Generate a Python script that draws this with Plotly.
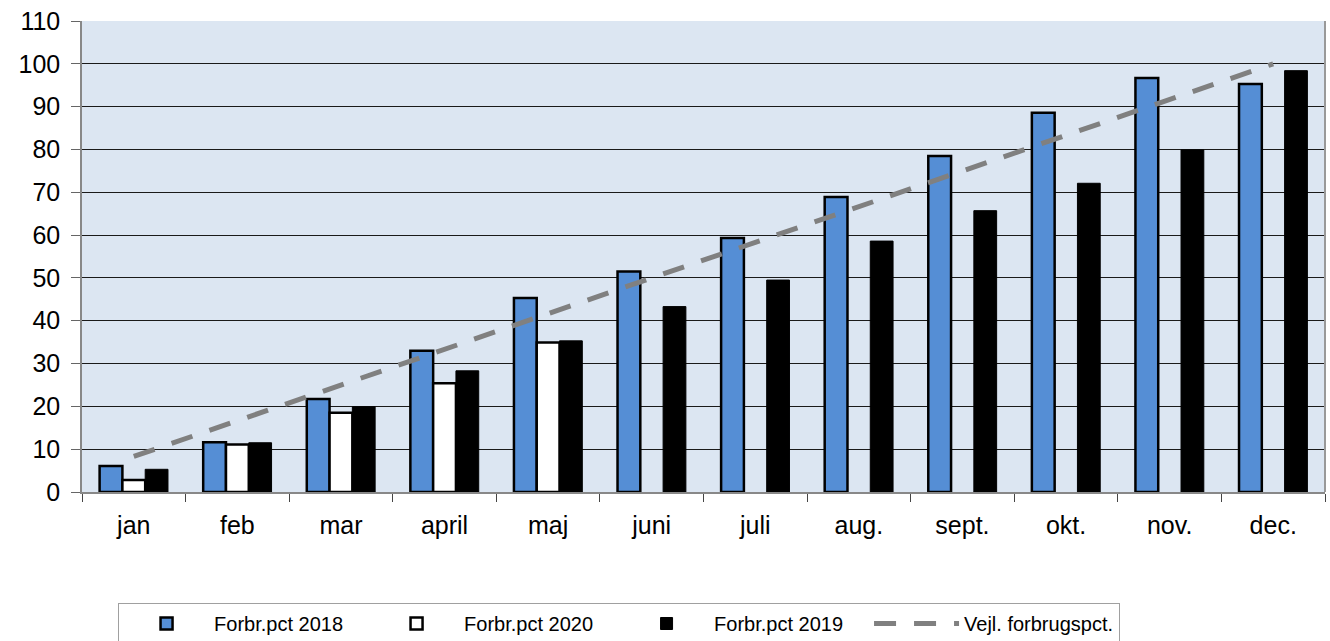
import plotly.graph_objects as go

months = ["jan", "feb", "mar", "april", "maj", "juni", "juli", "aug.", "sept.", "okt.", "nov.", "dec."]
pct_2018 = [6.1, 11.6, 21.7, 33.0, 45.3, 51.5, 59.3, 68.9, 78.5, 88.6, 96.7, 95.3]
pct_2020 = [2.8, 11.1, 18.5, 25.4, 34.9, None, None, None, None, None, None, None]
pct_2019 = [5.3, 11.5, 19.9, 28.3, 35.3, 43.3, 49.5, 58.6, 65.7, 72.1, 79.9, 98.4]
vejl = [8.3, 16.7, 25.0, 33.3, 41.7, 50.0, 58.3, 66.7, 75.0, 83.3, 91.7, 100.0]
y_ticks = [0, 10, 20, 30, 40, 50, 60, 70, 80, 90, 100, 110]

fig = go.Figure()
fig.add_trace(go.Bar(name="Forbr.pct 2018", x=months, y=pct_2018,
                     marker=dict(color="#558ED5", line=dict(color="#000000", width=2.5))))
fig.add_trace(go.Bar(name="Forbr.pct 2020", x=months, y=pct_2020,
                     marker=dict(color="#FFFFFF", line=dict(color="#000000", width=2.5))))
fig.add_trace(go.Bar(name="Forbr.pct 2019", x=months, y=pct_2019,
                     marker=dict(color="#000000", line=dict(color="#000000", width=1))))
fig.add_trace(go.Scatter(name="Vejl. forbrugspct.", x=months, y=vejl, mode="lines",
                         line=dict(color="#808080", width=5, dash="22px,18px")))

fig.update_layout(
    width=1330, height=641,
    margin=dict(l=82, r=5, t=21, b=149, autoexpand=False),
    paper_bgcolor="#FFFFFF",
    plot_bgcolor="#DCE6F2",
    barmode="group",
    bargap=0.34,
    bargroupgap=0,
    font=dict(family="Liberation Sans, Arial, sans-serif", color="#000000"),
    showlegend=True,
    legend=dict(
        orientation="h",
        x=0.029, xanchor="left",
        y=-0.2357, yanchor="top",
        bgcolor="#FFFFFF",
        bordercolor="#A0A0A0", borderwidth=1,
        font=dict(size=20),
        itemwidth=85,
        entrywidth=150, entrywidthmode="pixels",
        traceorder="normal",
    ),
)
fig.update_yaxes(
    range=[0, 110],
    tickvals=y_ticks,
    automargin=False,
    showgrid=True, gridcolor="#1A1A1A", gridwidth=1,
    showline=True, linecolor="#888888", linewidth=1.5,
    ticks="outside", ticklen=9, tickcolor="#666666",
    tickfont=dict(size=25),
    ticklabelstandoff=6,
    zeroline=False,
    mirror=False,
)
fig.update_xaxes(
    automargin=False,
    showline=True, linecolor="#888888", linewidth=1.5,
    ticks="outside", ticklen=8, tickcolor="#444444",
    tickson="boundaries",
    tickfont=dict(size=25),
    ticklabelstandoff=10,
    showgrid=False,
)
# right border of plot area
fig.add_shape(type="line", xref="paper", yref="paper", x0=1, x1=1, y0=0, y1=1,
              line=dict(color="#999999", width=2))

fig.write_html("out.html",
               config={"displayModeBar": False},
               post_script="document.body.style.margin='0';document.body.style.overflow='hidden';")
